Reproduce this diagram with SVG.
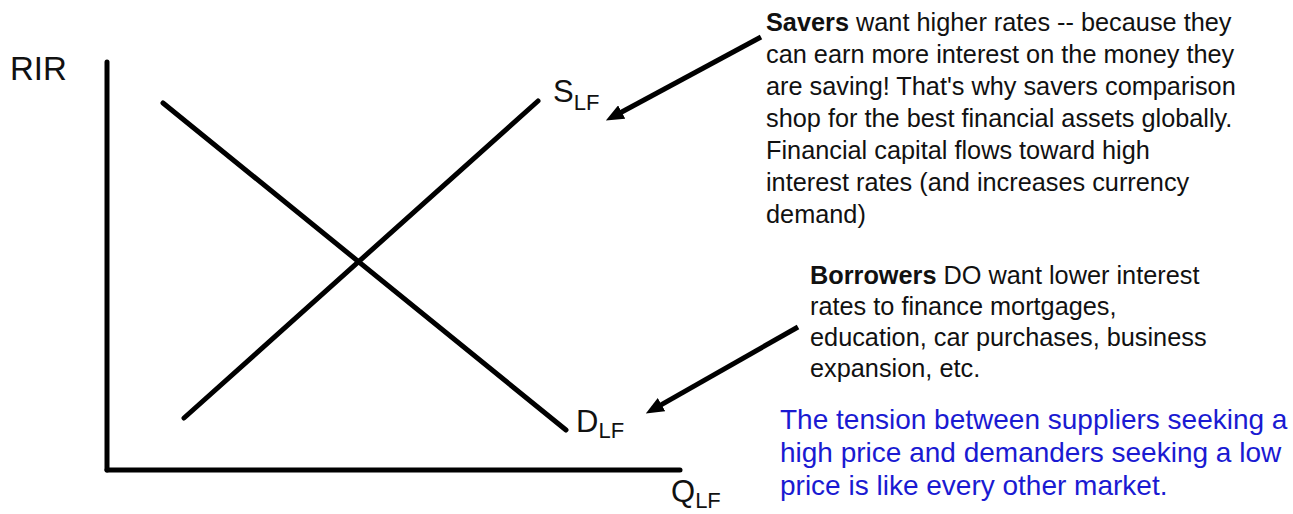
<svg xmlns="http://www.w3.org/2000/svg" width="1293" height="514" viewBox="0 0 1293 514">
<style>
.ax{stroke:#000;stroke-width:5;stroke-linecap:round;fill:none}
.t{font-family:"Liberation Sans",Arial,sans-serif;fill:#111}
.lbl{font-size:31px}
.sub{font-size:22px}
.note{font-size:25.3px}
.blue{font-size:28px;fill:#1a1ad2}
.arr{stroke:#000;stroke-width:5;fill:none}
</style>
<defs>
<marker id="ah" markerWidth="3.6" markerHeight="3" refX="0.2" refY="1.5" orient="auto" markerUnits="strokeWidth">
<path d="M0,0 L3.6,1.5 L0,3 z" fill="#000"/>
</marker>
</defs>
<rect width="1293" height="514" fill="#fff"/>
<g id="axes">
<line class="ax" x1="107" y1="62" x2="107" y2="470"/>
<line class="ax" x1="107" y1="470" x2="680" y2="470"/>
<text class="t lbl" x="10" y="80" style="font-size:33px">RIR</text>
<text class="t lbl" x="671" y="502">Q<tspan class="sub" dy="6">LF</tspan></text>
</g>
<g id="supply">
<line class="ax" x1="184" y1="418" x2="538" y2="101"/>
<text class="t lbl" x="553" y="102">S<tspan class="sub" dy="8">LF</tspan></text>
</g>
<g id="demand">
<line class="ax" x1="163" y1="103" x2="566" y2="430"/>
<text class="t lbl" x="576" y="432">D<tspan class="sub" dy="6">LF</tspan></text>
</g>
<g id="savers">
<text class="t note" x="766" y="31"><tspan font-weight="bold">Savers</tspan> want higher rates -- because they</text>
<text class="t note" x="766" y="63">can earn more interest on the money they</text>
<text class="t note" x="766" y="95">are saving! That's why savers comparison</text>
<text class="t note" x="766" y="127">shop for the best financial assets globally.</text>
<text class="t note" x="766" y="159">Financial capital flows toward high</text>
<text class="t note" x="766" y="191">interest rates (and increases currency</text>
<text class="t note" x="766" y="223">demand)</text>
</g>
<g id="borrowers">
<text class="t note" x="810" y="284"><tspan font-weight="bold">Borrowers</tspan> DO want lower interest</text>
<text class="t note" x="810" y="315">rates to finance mortgages,</text>
<text class="t note" x="810" y="346">education, car purchases, business</text>
<text class="t note" x="810" y="377">expansion, etc.</text>
</g>
<g id="tension">
<text class="t blue" x="780" y="429">The tension between suppliers seeking a</text>
<text class="t blue" x="780" y="462">high price and demanders seeking a low</text>
<text class="t blue" x="780" y="495">price is like every other market.</text>
</g>
<g id="connectors">
<line class="arr" x1="761" y1="37" x2="620.8" y2="112.5" marker-end="url(#ah)"/>
<line class="arr" x1="798" y1="327" x2="660.6" y2="405.1" marker-end="url(#ah)"/>
</g>
</svg>
